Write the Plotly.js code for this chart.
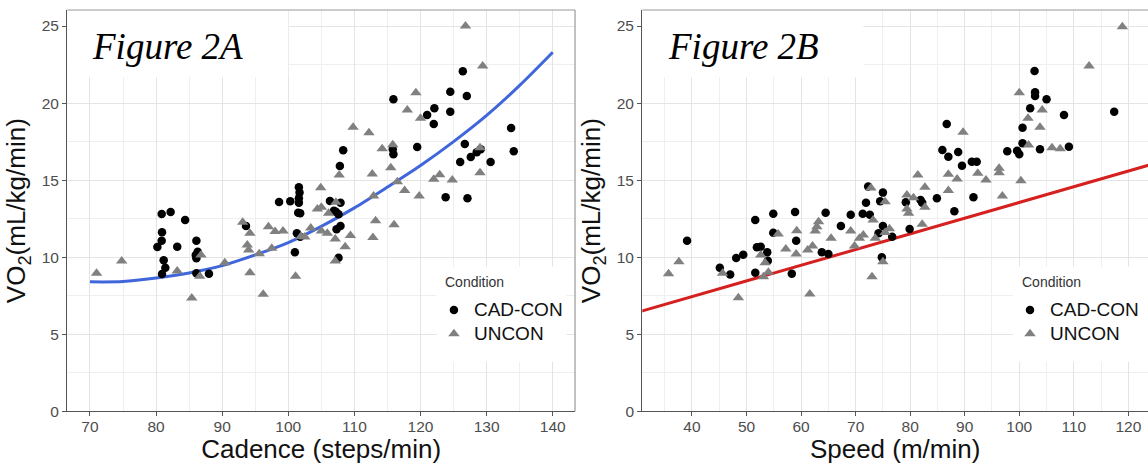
<!DOCTYPE html>
<html>
<head>
<meta charset="utf-8">
<script src="https://cdn.plot.ly/plotly-3.0.1.min.js"></script>
<style>html,body{margin:0;padding:0;background:#fff;}#chart{width:1148px;height:464px;}</style>
</head>
<body>
<div id="chart"></div>
<script>
// ---- Figure 2A: cadence vs VO2 ----
const cadenceCadCon = [80.85,82.2,84.4,80.9,80.85,80.2,83.2,86.1,81.15,81.4,80.9,86.0,86.3,86.1,86.1,88.0,93.6,98.6,100.3,101.6,101.7,101.6,101.6,101.5,101.8,101.3,101.8,101.0,106.3,106.9,107.2,107.9,107.6,107.9,107.3,107.6,107.8,108.3,115.9,115.8,115.9,119.5,121.0,122.1,122.0,124.5,124.5,126.4,127.0,126.7,126.0,127.6,128.5,129.1,130.6,123.8,127.1,133.7,134.1];
const vo2CadConA = [12.80,12.93,12.41,11.62,11.07,10.66,10.68,11.07,9.80,9.32,8.91,10.14,10.36,9.93,8.96,8.93,12.02,13.58,13.63,14.54,14.19,13.82,13.54,12.89,12.85,11.55,11.33,10.32,13.65,13.02,12.95,13.54,12.78,12.02,11.81,9.97,15.92,16.94,20.25,17.0,16.68,17.15,19.23,19.66,18.64,20.74,19.44,22.06,20.46,17.35,16.18,16.5,16.81,17.0,16.18,13.89,13.82,18.38,16.87];
const cadenceUncon = [71.0,74.8,83.2,85.4,86.8,86.6,90.4,93.1,94.2,93.8,94.0,94.2,95.6,96.2,97.0,98.0,99.2,97.5,101.1,101.9,102.5,103.4,104.4,105.0,104.9,106.1,107.2,105.0,105.9,107.1,108.6,109.4,107.1,107.7,109.8,112.2,114.2,115.8,112.7,115.5,116.5,112.9,117.6,119.8,113.2,116.0,112.8,119.3,118.0,120.0,126.8,129.4,129.0,129.0,122.9,122.0,124.8];
const vo2UnconA = [8.96,9.75,9.1,7.35,10.14,8.76,9.64,12.26,11.55,10.79,10.47,8.99,10.23,7.6,11.98,11.66,11.7,10.58,8.76,11.35,11.31,11.9,13.13,13.24,14.5,12.85,13.56,11.7,11.55,11.18,10.68,11.4,9.75,15.33,18.43,18.08,17.04,17.3,15.4,15.81,14.9,13.97,14.32,13.97,12.37,12.11,11.27,20.67,19.55,19.01,25.0,22.4,17.1,15.48,15.35,15.06,15.01];
const fitCadence = [70,75,80,85,90,95,100,105,110,115,120,125,130,135,140];
const fitVo2A = [8.4,8.42,8.65,8.98,9.45,10.15,10.95,12.0,13.2,14.55,15.95,17.5,19.2,21.15,23.3];

// ---- Figure 2B: speed vs VO2 ----
const speedCadCon = [39.1,45.1,47.0,48.1,49.4,51.6,51.6,51.9,52.6,53.8,53.9,54.9,54.9,58.9,59.1,58.3,64.5,63.8,65.0,67.3,69.1,71.3,71.9,72.3,72.6,74.5,75.0,75.0,74.2,74.8,76.7,79.2,79.9,81.9,82.2,84.9,88.1,91.6,85.9,87.0,88.8,86.7,89.5,91.3,92.2,97.8,99.6,100.0,100.6,100.6,102.0,102.9,102.9,102.8,105.0,103.8,108.2,109.1,117.4];
const vo2CadConB = [11.07,9.32,8.87,9.95,10.16,12.41,8.99,10.64,10.68,10.32,9.77,12.82,11.59,12.93,11.07,8.93,12.89,10.32,10.21,12.02,12.76,12.82,13.54,14.58,12.76,13.63,14.19,12.02,11.55,9.99,11.33,13.56,11.83,13.71,13.54,13.82,12.98,13.89,16.96,16.52,16.83,18.64,15.94,16.2,16.2,16.87,16.91,16.68,17.39,18.40,19.66,20.70,20.46,22.08,20.25,17.0,19.23,17.17,19.44];
const speedUncon = [35.7,37.6,45.6,48.5,52.6,53.4,53.1,54.0,55.8,57.2,59.2,59.1,61.2,62.1,61.6,62.6,62.9,63.2,65.5,69.1,69.8,70.7,71.4,73.6,73.0,73.2,72.8,75.4,75.0,75.4,76.2,79.4,80.6,79.4,79.7,82.7,82.7,81.4,87.0,87.0,88.6,89.7,92.4,93.9,96.3,96.3,96.9,100.3,82.2,100.0,101.6,104.2,103.8,101.7,106.0,107.5,112.8,118.9];
const vo2UnconB = [8.93,9.71,8.96,7.37,10.14,9.64,8.73,9.02,11.51,10.53,11.72,10.21,10.47,10.73,7.61,11.7,11.98,12.30,11.23,11.7,10.73,11.23,11.44,11.23,8.73,12.41,14.49,13.6,9.71,11.6,11.85,14.04,13.86,13.13,12.85,13.24,14.54,15.33,14.32,15.38,15.07,18.1,15.44,15.01,15.48,15.77,13.97,14.96,12.13,20.67,19.01,19.55,18.43,17.28,17.1,17.04,22.4,24.96];
const fitSpeed = [30,125];
const fitVo2B = [6.42,16.1];

const conditionNames = ['CAD-CON','UNCON'];
const legendTitle = 'Condition';
const xTitleA = 'Cadence (steps/min)';
const xTitleB = 'Speed (m/min)';
const yTitle = 'VO<sub>2</sub>(mL/kg/min)';
const panelLabels = ['<i>Figure 2A</i>','<i>Figure 2B</i>'];

const FONT = 'Liberation Sans, Arial, sans-serif';
const circ = {symbol:'circle', size:8.5, color:'#000000'};
const tri = {symbol:'triangle-up', size:10, color:'#808080'};
const big = s => '<span style="font-size:19px">' + s + '</span>';

const traces = [
  {x: fitCadence, y: fitVo2A, mode:'lines', line:{color:'#3f66db', width:3, shape:'spline', smoothing:0.8}, xaxis:'x', yaxis:'y', showlegend:false, hoverinfo:'skip'},
  {x: cadenceCadCon, y: vo2CadConA, mode:'markers', name:big(conditionNames[0]), marker:circ, xaxis:'x', yaxis:'y', legend:'legend'},
  {x: cadenceUncon, y: vo2UnconA, mode:'markers', name:big(conditionNames[1]), marker:tri, xaxis:'x', yaxis:'y', legend:'legend'},
  {x: fitSpeed, y: fitVo2B, mode:'lines', line:{color:'#d61f1f', width:3}, xaxis:'x2', yaxis:'y2', showlegend:false, hoverinfo:'skip'},
  {x: speedCadCon, y: vo2CadConB, mode:'markers', name:big(conditionNames[0]), marker:circ, xaxis:'x2', yaxis:'y2', legend:'legend2'},
  {x: speedUncon, y: vo2UnconB, mode:'markers', name:big(conditionNames[1]), marker:tri, xaxis:'x2', yaxis:'y2', legend:'legend2'}
];

function xax(domain, range, tick0, title){
  return {domain:domain, range:range, tick0:tick0, dtick:10, ticks:'outside', ticklen:4, tickcolor:'#555',
    ticklabelstandoff:-3,
    tickfont:{family:FONT, size:15.5, color:'#4d4d4d'}, showgrid:true, gridcolor:'#e4e4e4', gridwidth:1,
    minor:{dtick:5, tick0:tick0, showgrid:true, gridcolor:'#efefef', gridwidth:1},
    showline:true, linecolor:'#555', linewidth:1.2, zeroline:false,
    title:{text:title, font:{family:FONT, size:26, color:'#111'}, standoff:5}};
}
function yax(anchor){
  return {domain:[0.1136,0.9784], range:[0,26.04], tick0:0, dtick:5, ticks:'outside', ticklen:4, tickcolor:'#555',
    tickfont:{family:FONT, size:15.5, color:'#4d4d4d'}, showgrid:true, gridcolor:'#e4e4e4', gridwidth:1,
    minor:{dtick:2.5, tick0:0, showgrid:true, gridcolor:'#efefef', gridwidth:1},
    showline:true, linecolor:'#555', linewidth:1.2, zeroline:false, anchor:anchor,
    title:{text:yTitle, font:{family:FONT, size:26, color:'#111'}, standoff:8}};
}
const legendBase = {bgcolor:'rgba(0,0,0,0)', borderwidth:0, font:{family:FONT, size:16, color:'#111'},
  itemsizing:'trace', tracegroupgap:0, xanchor:'left', yanchor:'top', y:0.3685};

const whiteBox = (xr, yr, x0, x1, y0, y1) => ({type:'rect', xref:xr, yref:yr, x0:x0, x1:x1, y0:y0, y1:y1,
  fillcolor:'#ffffff', line:{width:0}, layer:'above'});
const edge = (xr, yr, x0, x1, y0, y1) => ({type:'line', xref:xr+' domain', yref:yr+' domain', x0:x0, x1:x1, y0:y0, y1:y1,
  line:{color:'#9a9a9a', width:1.2}, layer:'above'});

const layout = {
  width:1148, height:464, margin:{l:0, r:0, t:0, b:0}, paper_bgcolor:'#fff', plot_bgcolor:'#fff',
  font:{family:FONT},
  xaxis: xax([0.0586,0.5009], [66.57,143.37], 70, xTitleA),
  yaxis: yax('x'),
  xaxis2: xax([0.5595,1.0], [30.89,123.6], 40, xTitleB),
  yaxis2: yax('x2'),
  legend: Object.assign({}, legendBase, {x:0.378}),
  legend2: Object.assign({}, legendBase, {x:0.8798}),
  shapes: [
    whiteBox('x','y', 66.57, 100.0, 21.67, 26.04),
    whiteBox('x2','y2', 30.89, 71.4, 21.67, 26.04),
    whiteBox('x','y', 122.45, 142.1, 3.22, 9.38),
    whiteBox('x2','y2', 98.86, 123.6, 3.22, 9.38),
    edge('x','y', 0, 1, 1, 1), edge('x','y', 1, 1, 0, 1),
    edge('x2','y2', 0, 1, 1, 1)
  ],
  annotations: [
    {text:panelLabels[0], xref:'paper', yref:'paper', x:90/1148, y:(464-46)/464, xanchor:'left', yanchor:'middle', showarrow:false,
     font:{family:'Liberation Serif, Times New Roman, serif', size:37, color:'#000'}},
    {text:panelLabels[1], xref:'paper', yref:'paper', x:666/1148, y:(464-46)/464, xanchor:'left', yanchor:'middle', showarrow:false,
     font:{family:'Liberation Serif, Times New Roman, serif', size:37, color:'#000'}},
    {text:legendTitle, xref:'paper', yref:'paper', x:443/1148, y:(464-281.7)/464, xanchor:'left', yanchor:'middle', showarrow:false,
     font:{family:FONT, size:14, color:'#333'}},
    {text:legendTitle, xref:'paper', yref:'paper', x:1020/1148, y:(464-281.7)/464, xanchor:'left', yanchor:'middle', showarrow:false,
     font:{family:FONT, size:14, color:'#333'}}
  ]
};
Plotly.newPlot('chart', traces, layout, {staticPlot:true, displayModeBar:false});
</script>
</body>
</html>
